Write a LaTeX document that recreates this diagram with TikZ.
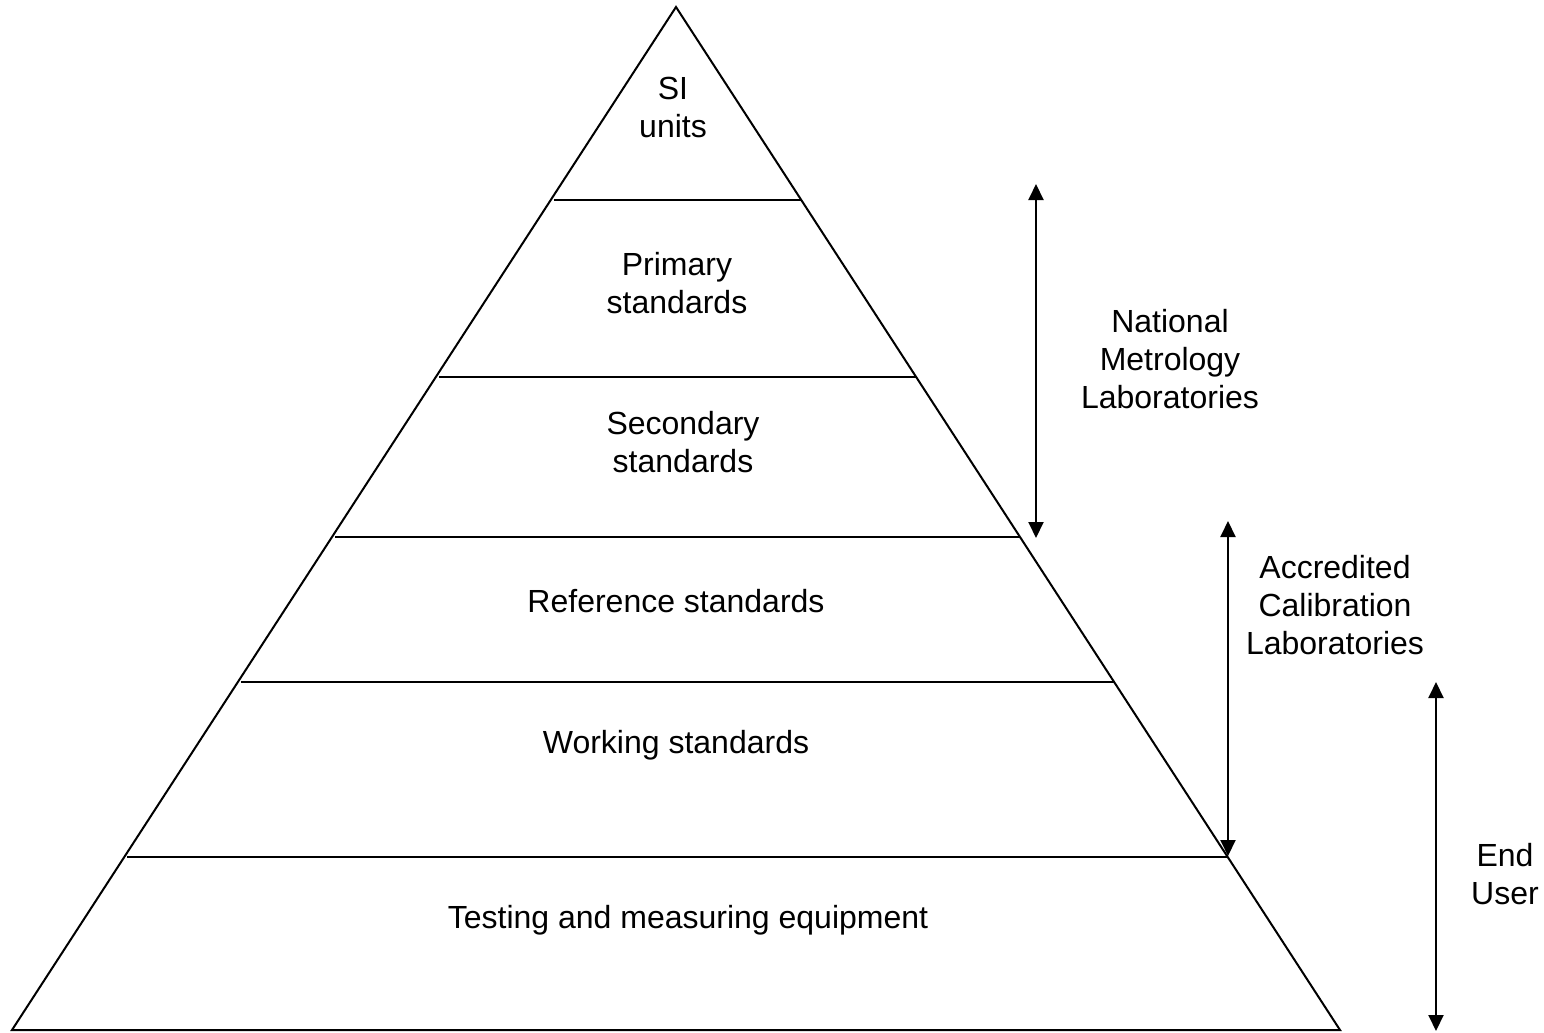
\documentclass[tikz,border=0pt]{standalone}
\usepackage{fontspec}
\setmainfont{Liberation Sans}
\usetikzlibrary{arrows.meta, calc, positioning}

\begin{document}
\begin{tikzpicture}[x=0.5pt, y=-0.5pt]
  \tikzset{edge/.style={line width=1pt, line join=miter}};
  \tikzset{layer/.style={line width=1pt, shorten <=1.5pt}};
  \tikzset{span/.style={line width=1pt, {Triangle[length=8pt,width=7.5pt]}-{Triangle[length=8pt,width=7.5pt]}}};
  \tikzset{lbl/.style={align=center, font=\fontsize{16}{19}\selectfont, inner sep=0pt}};

  \useasboundingbox (0,0) rectangle (1544,1033);

  % pyramid
  \coordinate (apex) at (676,7);
  \coordinate (bl) at (12,1030);
  \coordinate (br) at (1340,1030);
  \draw[edge] (apex) -- (bl) -- (br) -- cycle;

  % layers
  \foreach \y [count=\i] in {200,377,537,682,857} {
    \draw[layer] ($(apex)!{(\y-7)/1023}!(bl)$) coordinate (l\i)
      -- ($(apex)!{(\y-7)/1023}!(br)$) coordinate (r\i);
  }

  \node[lbl] (si)   at (673,107) {SI\\units};
  \node[lbl] (prim) at (677,283) {Primary\\standards};
  \node[lbl] (sec)  at (683,442) {Secondary\\standards};
  \node[lbl] (ref)  at (676,601) {Reference standards};
  \node[lbl] (work) at (676,745) {Working standards};
  \node[lbl] (test) at (688,920) {Testing and measuring equipment};

  % ranges
  \coordinate (nmlT) at (1036,184);
  \coordinate (nmlB) at (1036,538);
  \coordinate (aclT) at (1228,521);
  \coordinate (aclB) at (1228,856);
  \coordinate (euT)  at (1436,682);
  \coordinate (euB)  at (1436,1031);
  \draw[span] (nmlT) -- (nmlB);
  \draw[span] (aclT) -- (aclB);
  \draw[span] (euT) -- (euB);

  \node[lbl] (nml) at (1170,359) {National\\Metrology\\Laboratories};
  \node[lbl] (acl) at (1335,605) {Accredited\\Calibration\\Laboratories};
  \node[lbl] (eu)  at (1505,874) {End\\User};
\end{tikzpicture}
\end{document}
